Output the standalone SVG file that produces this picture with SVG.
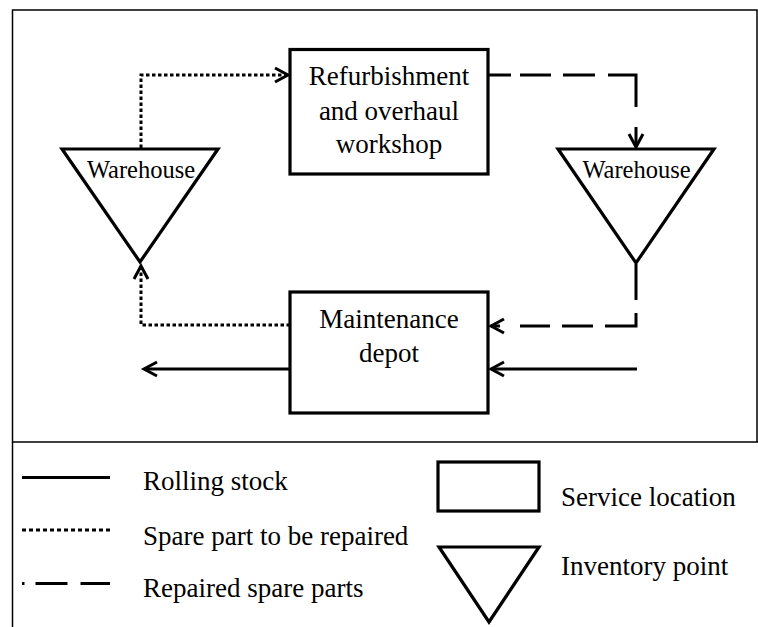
<svg xmlns="http://www.w3.org/2000/svg" width="758" height="627" viewBox="0 0 758 627">
  <style>
    .frame { fill: none; stroke: #000; stroke-width: 1.5; }
    .shape { fill: #fff; stroke: #000; stroke-width: 3.2; stroke-linejoin: miter; }
    .flow { fill: none; stroke: #000; stroke-width: 3; }
    .dot { stroke-dasharray: 3.5 2.5; }
    .label { font-family: "Liberation Serif", "Times New Roman", serif; fill: #000; }
    .node-text { font-size: 27px; text-anchor: middle; }
    .wh-text { font-size: 24.5px; text-anchor: middle; }
    .legend-text { font-size: 27px; }
  </style>
  <defs>
    <marker id="chev" markerUnits="userSpaceOnUse" viewBox="0 0 20 20" markerWidth="20" markerHeight="20" refX="16" refY="10" orient="auto" overflow="visible">
      <path d="M3,3 L16,10 L3,17" fill="none" stroke="#000" stroke-width="3" stroke-linejoin="miter"/>
    </marker>
  </defs>

  <rect width="758" height="627" fill="#fff"/>

  <!-- outer frame and legend divider -->
  <g id="frame">
    <path class="frame" d="M12.5,627 V10 H757 V442 M12.5,442 H758"/>
  </g>

  <!-- connectors -->
  <g id="connectors">
    <!-- spare part to be repaired: warehouse -> workshop -->
    <path class="flow dot" d="M141,148 V75 H288" marker-end="url(#chev)"/>
    <!-- spare part to be repaired: depot -> warehouse -->
    <path class="flow dot" d="M290,325 H141 V266" marker-end="url(#chev)"/>
    <!-- repaired spare parts: workshop -> warehouse -->
    <path class="flow" stroke-dasharray="23 9 31 12 32 13 60 20 30" d="M488,75 H636 V147" marker-end="url(#chev)"/>
    <!-- repaired spare parts: warehouse -> depot -->
    <path class="flow" stroke-dasharray="36 13 44 12 31 12 30 20 20" d="M636,264 V326 H491" marker-end="url(#chev)"/>
    <!-- rolling stock in and out of depot -->
    <path class="flow" d="M637,369 H491" marker-end="url(#chev)"/>
    <path class="flow" d="M290,369 H144" marker-end="url(#chev)"/>
  </g>

  <g id="workshop">
    <rect class="shape" x="290" y="49.5" width="198" height="124.5"/>
    <text class="label node-text" x="389" y="85">Refurbishment</text>
    <text class="label node-text" x="389" y="119.5">and overhaul</text>
    <text class="label node-text" x="389" y="153">workshop</text>
  </g>

  <g id="depot">
    <rect class="shape" x="290" y="292" width="198" height="121"/>
    <text class="label node-text" x="389" y="328">Maintenance</text>
    <text class="label node-text" x="389" y="362">depot</text>
  </g>

  <g id="warehouse-left">
    <polygon class="shape" points="62,149 218,149 140,262"/>
    <text class="label wh-text" x="141" y="177.5">Warehouse</text>
  </g>

  <g id="warehouse-right">
    <polygon class="shape" points="558,149 714,149 636,263"/>
    <text class="label wh-text" x="636.5" y="178">Warehouse</text>
  </g>

  <!-- legend -->
  <g id="legend">
    <line class="flow" x1="22" y1="477.5" x2="110" y2="477.5" stroke-width="3.2"/>
    <text class="label legend-text" x="143" y="490">Rolling stock</text>
    <line class="flow" x1="22" y1="530" x2="110" y2="530" stroke-width="2.5" stroke-dasharray="4 3"/>
    <text class="label legend-text" x="143" y="545">Spare part to be repaired</text>
    <line class="flow" x1="22" y1="583.5" x2="110" y2="583.5" stroke-width="3" stroke-dasharray="2.5 11 32 13 31"/>
    <text class="label legend-text" x="143" y="597">Repaired spare parts</text>
    <rect class="shape" x="438" y="462" width="101" height="49"/>
    <text class="label legend-text" x="561" y="506">Service location</text>
    <polygon class="shape" points="439,547 539,547 489,622"/>
    <text class="label legend-text" x="561" y="575">Inventory point</text>
  </g>
</svg>
